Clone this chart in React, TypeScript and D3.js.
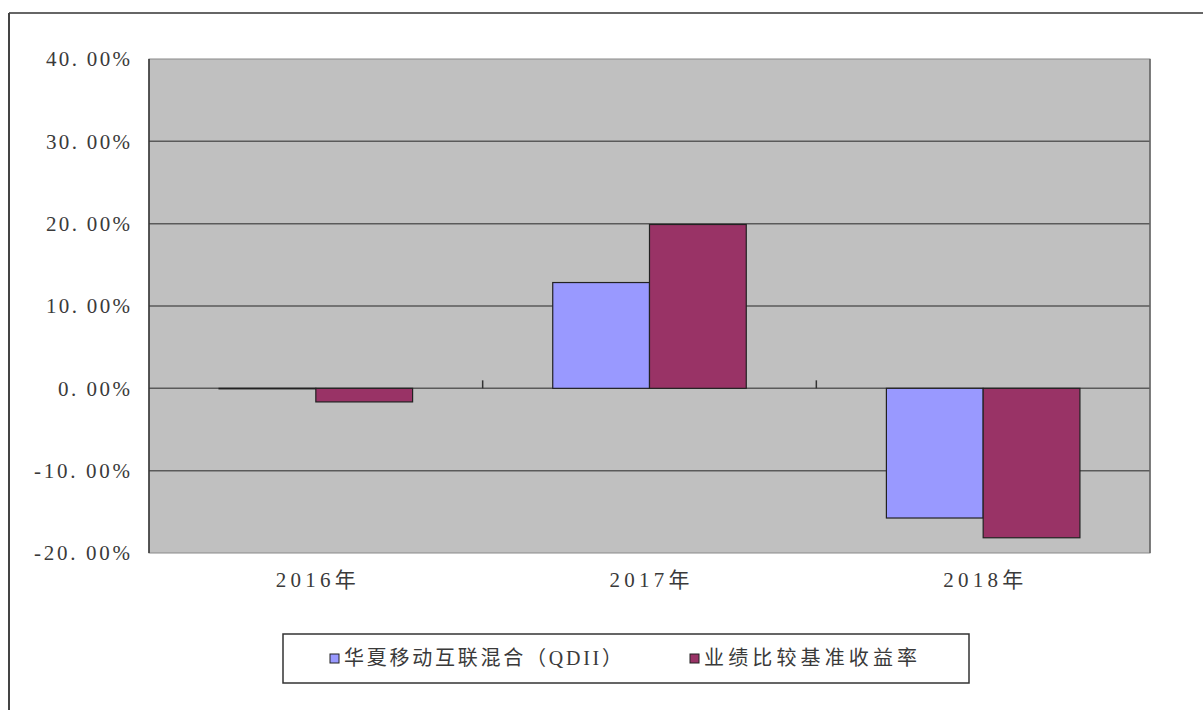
import { useMemo } from 'react'
import * as d3 from 'd3'

const years = ['2016年', '2017年', '2018年']
const fundReturns = [-0.05, 12.85, -15.75]
const benchmarkReturns = [-1.65, 19.9, -18.15]
const seriesNames = ['华夏移动互联混合（QDII）', '业绩比较基准收益率']
const seriesColors = ['#9999ff', '#993366']
const yTicks = [40, 30, 20, 10, 0, -10, -20]

const W = 1203
const H = 710
const plot = { left: 149, top: 59, right: 1150, bottom: 553 }

const fmt = (v: number) => {
  const s = Math.abs(v).toFixed(2).replace('.', '. ')
  return (v < 0 ? '-' : '') + s + '%'
}

export default function App() {
  const x = useMemo(
    () => d3.scaleBand<string>().domain(years).range([plot.left, plot.right]).paddingInner(0).paddingOuter(0),
    []
  )
  const y = useMemo(() => d3.scaleLinear([-20, 40], [plot.bottom, plot.top]), [])
  const groupPad = 0.21
  const sub = d3
    .scaleBand<number>()
    .domain([0, 1])
    .range([x.bandwidth() * groupPad, x.bandwidth() * (1 - groupPad)])
    .padding(0)

  const series = [fundReturns, benchmarkReturns]
  const font = '"Liberation Serif", "Noto Sans CJK SC", serif'
  const legendX = [330, 690]
  const legendLen = [278, 213]

  return (
    <div style={{ position: 'fixed', left: 0, top: 0 }}>
      <svg width={W} height={H} style={{ display: 'block', background: '#fff' }}>
        {/* outer frame */}
        <line x1={9} x2={W} y1={13} y2={13} stroke="#666" strokeWidth={2} />
        <line x1={9} x2={9} y1={13} y2={H} stroke="#444" strokeWidth={2} />

        {/* plot area */}
        <rect
          x={plot.left}
          y={plot.top}
          width={plot.right - plot.left}
          height={plot.bottom - plot.top}
          fill="#c0c0c0"
          stroke="#8a8a8a"
          strokeWidth={1}
        />
        {yTicks.map((t) => (
          <line
            key={t}
            x1={plot.left}
            x2={plot.right}
            y1={y(t)}
            y2={y(t)}
            stroke={t === 40 || t === -20 ? 'none' : '#5a5a5a'}
            strokeWidth={1.5}
          />
        ))}
        <line x1={plot.right} x2={plot.right} y1={plot.top} y2={plot.bottom} stroke="#666" strokeWidth={1.5} />
        <line x1={plot.left} x2={plot.left} y1={plot.top} y2={plot.bottom} stroke="#333" strokeWidth={1.5} />

        {/* bars */}
        {years.map((yr, i) =>
          series.map((vals, s) => {
            const v = vals[i]
            const x0 = (x(yr) ?? 0) + (sub(s) ?? 0)
            const y0 = Math.min(y(0), y(v))
            const h = Math.abs(y(v) - y(0))
            return (
              <rect
                key={yr + s}
                x={x0}
                y={y0}
                width={sub.bandwidth()}
                height={Math.max(h, 0.5)}
                fill={seriesColors[s]}
                stroke="#222"
                strokeWidth={1.2}
              />
            )
          })
        )}

        {/* category ticks on zero line */}
        {years.slice(1).map((yr) => (
          <line
            key={yr}
            x1={x(yr)}
            x2={x(yr)}
            y1={y(0) - 8}
            y2={y(0)}
            stroke="#333"
            strokeWidth={1.5}
          />
        ))}

        {/* y tick labels */}
        {yTicks.map((t) => {
          const label = fmt(t)
          return (
            <text
              key={t}
              x={130}
              y={y(t)}
              dy="0.35em"
              textAnchor="end"
              fontSize={21}
              fontFamily={font}
              fill="#3a3a3a"
              textLength={label.length * 12}
              lengthAdjust="spacing"
            >
              {label}
            </text>
          )
        })}

        {/* x labels */}
        {years.map((yr) => (
          <text
            key={yr}
            x={(x(yr) ?? 0) + x.bandwidth() / 2}
            y={580}
            dy="0.35em"
            textAnchor="middle"
            fontSize={21}
            fontFamily={font}
            fill="#3a3a3a"
            textLength={80}
            lengthAdjust="spacing"
          >
            {yr}
          </text>
        ))}

        {/* legend */}
        <rect x={283} y={634} width={686} height={49} fill="#fff" stroke="#333" strokeWidth={1.5} />
        {seriesNames.map((name, i) => (
          <g key={name} transform={`translate(${legendX[i]},658)`}>
            <rect x={0} y={-4} width={9} height={9} fill={seriesColors[i]} stroke="#222" strokeWidth={1} />
            <text
              x={14}
              dy="0.35em"
              fontSize={20}
              fontFamily={font}
              fill="#3a3a3a"
              textLength={legendLen[i]}
              lengthAdjust="spacing"
            >
              {name}
            </text>
          </g>
        ))}
      </svg>
    </div>
  )
}
